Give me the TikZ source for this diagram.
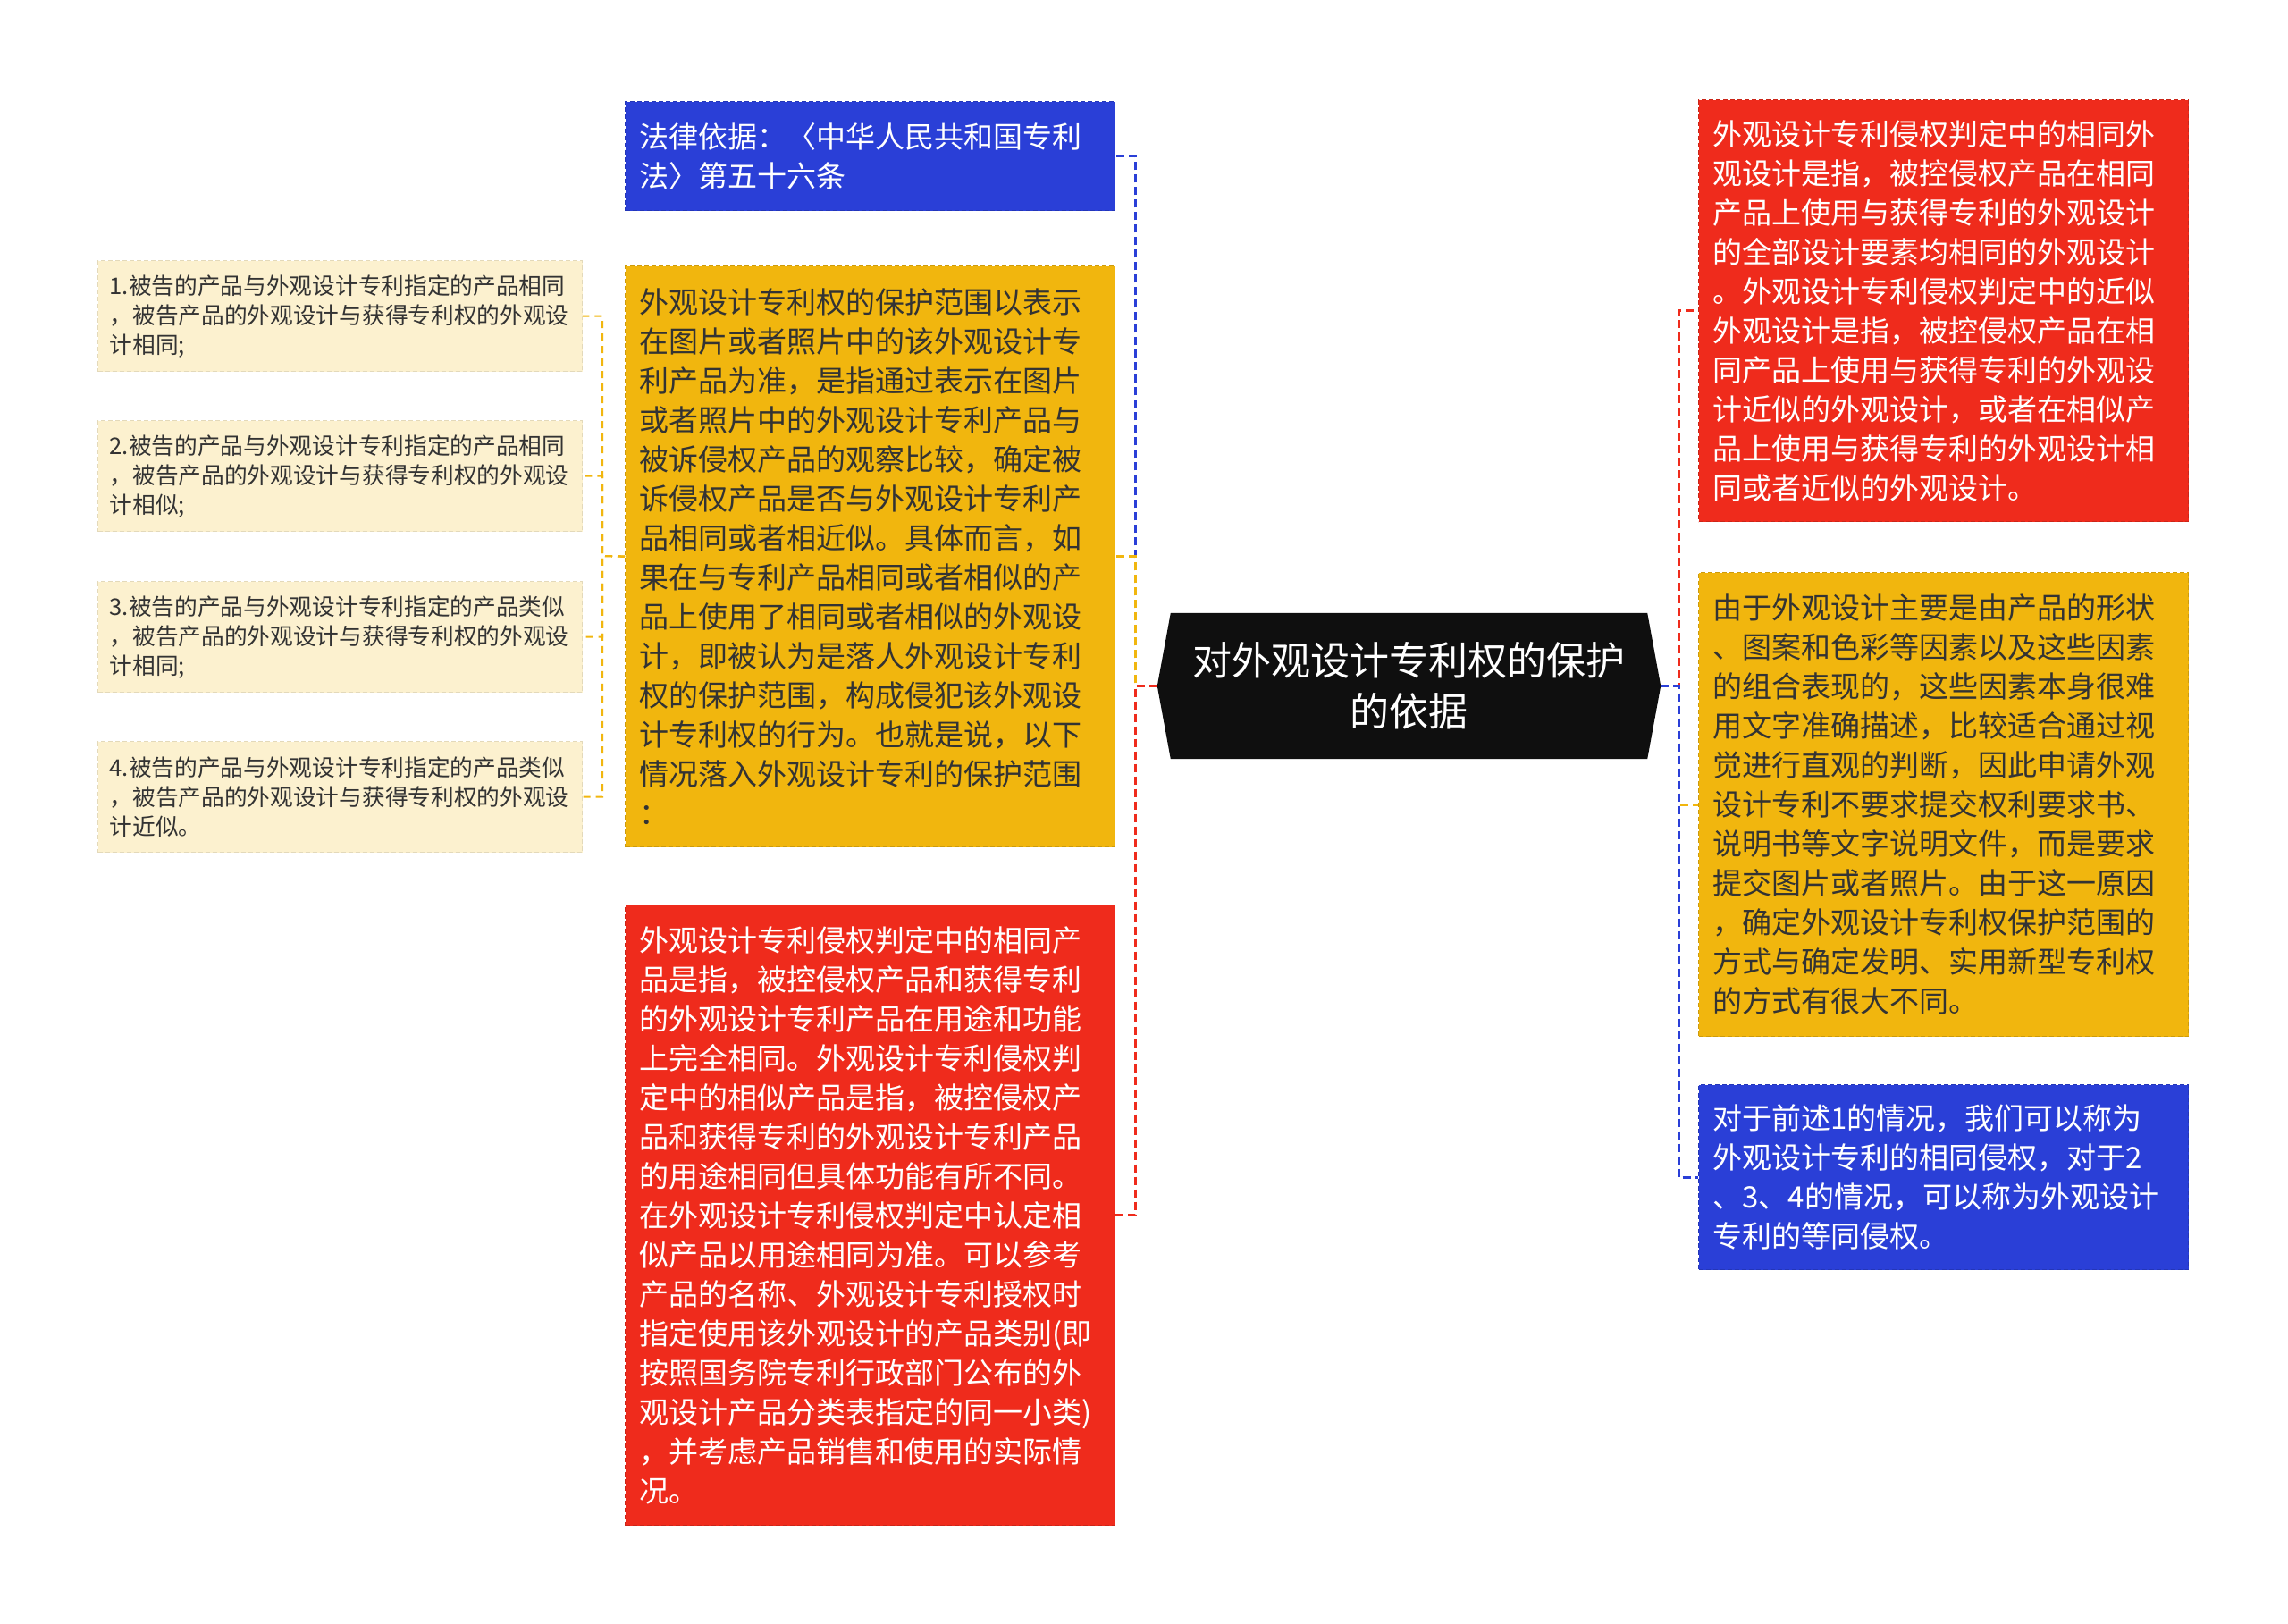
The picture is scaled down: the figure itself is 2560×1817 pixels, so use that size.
\documentclass[tikz,border=0pt]{standalone}
\usepackage{fontspec}
\setmainfont{Noto Sans CJK SC}
\usetikzlibrary{backgrounds}
\definecolor{myBlue}{HTML}{2A3FD7}
\definecolor{myYellow}{HTML}{F1B60E}
\definecolor{myRed}{HTML}{EF2B1C}
\definecolor{myCream}{HTML}{FCF1CF}
\definecolor{myBlack}{HTML}{0F0F0F}
\definecolor{myInk}{HTML}{333333}

\begin{document}
\begin{tikzpicture}[x=1pt, y=-1pt, line cap=butt]
  \tikzstyle{Box}=[rectangle, anchor=north west, align=left, inner xsep=16pt, inner ysep=0pt,
                   minimum width=548pt, text width=516pt, dash pattern=on 5pt off 3pt, line width=1.2pt,
                   font=\fontsize{33}{44}\selectfont]
  \tikzstyle{BoxB}=[Box, fill=myBlue, draw=myBlue!85!black, text=white]
  \tikzstyle{BoxY}=[Box, fill=myYellow, draw=myYellow!85!black, text=myInk]
  \tikzstyle{BoxR}=[Box, fill=myRed, draw=myRed!85!black, text=white]
  \tikzstyle{BoxC}=[Box, fill=myCream, draw=myCream!90!black, text=myInk, inner xsep=13pt,
                    minimum width=542pt, text width=516pt, minimum height=124pt,
                    font=\fontsize{25.7}{33}\selectfont]
  \tikzstyle{Root}=[rectangle, align=center, text=white, minimum width=563pt, minimum height=163pt,
                    inner sep=0pt, font=\fontsize{44}{57}\selectfont]
  \tikzstyle{lnB}=[myBlue, line width=3pt, dash pattern=on 9pt off 5pt]
  \tikzstyle{lnY}=[myYellow, line width=3pt, dash pattern=on 9pt off 5pt]
  \tikzstyle{lnR}=[myRed, line width=3pt, dash pattern=on 9pt off 5pt]
  \tikzstyle{lnC}=[myYellow, line width=2pt, dash pattern=on 8pt off 6pt]

  \useasboundingbox (0,0) rectangle (2560,1817);

  % root
  \node[Root] (ctr) at (1576.5,767.5) {对外观设计专利权的保护\\的依据};

  % left column
  \node[BoxB, minimum height=122pt] at (699,113) (bt) {法律依据：〈中华人民共和国专利\\法〉第五十六条};
  \node[BoxY, minimum height=650pt] at (699,297) (yl) {外观设计专利权的保护范围以表示\\在图片或者照片中的该外观设计专\\利产品为准，是指通过表示在图片\\或者照片中的外观设计专利产品与\\被诉侵权产品的观察比较，确定被\\诉侵权产品是否与外观设计专利产\\品相同或者相近似。具体而言，如\\果在与专利产品相同或者相似的产\\品上使用了相同或者相似的外观设\\计，即被认为是落人外观设计专利\\权的保护范围，构成侵犯该外观设\\计专利权的行为。也就是说，以下\\情况落入外观设计专利的保护范围\\：};
  \node[BoxR, minimum height=694pt] at (699,1012) (rl) {外观设计专利侵权判定中的相同产\\品是指，被控侵权产品和获得专利\\的外观设计专利产品在用途和功能\\上完全相同。外观设计专利侵权判\\定中的相似产品是指，被控侵权产\\品和获得专利的外观设计专利产品\\的用途相同但具体功能有所不同。\\在外观设计专利侵权判定中认定相\\似产品以用途相同为准。可以参考\\产品的名称、外观设计专利授权时\\指定使用该外观设计的产品类别(即\\按照国务院专利行政部门公布的外\\观设计产品分类表指定的同一小类)\\，并考虑产品销售和使用的实际情\\况。};

  % cases
  \node[BoxC] at (109,291) (c1) {1.被告的产品与外观设计专利指定的产品相同\\，被告产品的外观设计与获得专利权的外观设\\计相同;};
  \node[BoxC] at (109,470) (c2) {2.被告的产品与外观设计专利指定的产品相同\\，被告产品的外观设计与获得专利权的外观设\\计相似;};
  \node[BoxC] at (109,650) (c3) {3.被告的产品与外观设计专利指定的产品类似\\，被告产品的外观设计与获得专利权的外观设\\计相同;};
  \node[BoxC] at (109,829) (c4) {4.被告的产品与外观设计专利指定的产品类似\\，被告产品的外观设计与获得专利权的外观设\\计近似。};

  % right column
  \node[BoxR, minimum height=472pt] at (1900,111) (rr) {外观设计专利侵权判定中的相同外\\观设计是指，被控侵权产品在相同\\产品上使用与获得专利的外观设计\\的全部设计要素均相同的外观设计\\。外观设计专利侵权判定中的近似\\外观设计是指，被控侵权产品在相\\同产品上使用与获得专利的外观设\\计近似的外观设计，或者在相似产\\品上使用与获得专利的外观设计相\\同或者近似的外观设计。};
  \node[BoxY, minimum height=519pt] at (1900,640) (ry) {由于外观设计主要是由产品的形状\\、图案和色彩等因素以及这些因素\\的组合表现的，这些因素本身很难\\用文字准确描述，比较适合通过视\\觉进行直观的判断，因此申请外观\\设计专利不要求提交权利要求书、\\说明书等文字说明文件，而是要求\\提交图片或者照片。由于这一原因\\，确定外观设计专利权保护范围的\\方式与确定发明、实用新型专利权\\的方式有很大不同。};
  \node[BoxB, minimum height=207pt] at (1900,1213) (rb) {对于前述1的情况，我们可以称为\\外观设计专利的相同侵权，对于2\\、3、4的情况，可以称为外观设计\\专利的等同侵权。};

  \begin{scope}[on background layer]
    \fill[white] (0,0) rectangle (2560,1817);
    \fill[myBlack] ([xshift=15pt]ctr.north west) -- ([xshift=-15pt]ctr.north east) -- (ctr.east)
      -- ([xshift=-15pt]ctr.south east) -- ([xshift=15pt]ctr.south west) -- (ctr.west) -- cycle;
  \end{scope}

  % connectors
  \coordinate (lt) at (1270,767.5);
  \coordinate (rt) at (1878,767.5);
  \coordinate (ct) at (674,622);

  \draw[lnB] (ctr.west) -- (lt) |- (bt.east);
  \draw[lnY] (ctr.west) -- (lt) |- (yl.east);
  \draw[lnR] (ctr.west) -- (lt) |- (rl.east);

  \draw[lnR] (ctr.east) -- (rt) |- (rr.west);
  \draw[lnY] (ctr.east) -- (rt) |- (ry.west);
  \draw[lnB] (ctr.east) -- (rt) |- (rb.west);

  \foreach \c in {c1,c2,c3,c4}
    \draw[lnC] (yl.west) -- (ct) |- (\c.east);
\end{tikzpicture}
\end{document}
